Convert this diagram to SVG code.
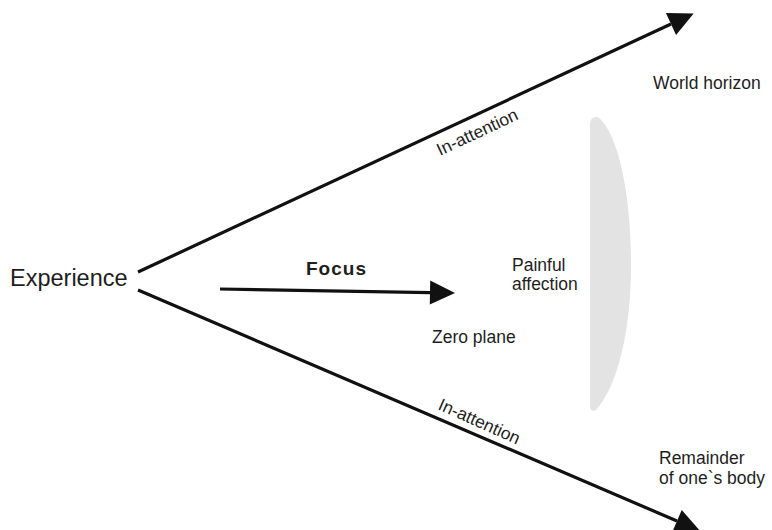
<svg xmlns="http://www.w3.org/2000/svg" width="772" height="530" viewBox="0 0 772 530">
  <style>
    .t { font-family: "Liberation Sans", Arial, sans-serif; fill: #1e1e1e; }
    .m { font-size: 17.5px; }
    .ia { font-size: 17.5px; }
    .line { stroke: #111; stroke-width: 3.2; fill: none; }
  </style>
  <defs>
    <marker id="ah" markerUnits="userSpaceOnUse" markerWidth="25" markerHeight="25" refX="0" refY="12" orient="auto" overflow="visible">
      <path d="M0,0 L25,12 L0,24 Z" fill="#111"/>
    </marker>
  </defs>
  <rect width="772" height="530" fill="#fff"/>

  <g id="painful-affection-plane">
    <path d="M590 123 Q591 116 598 117 C620 135 631 200 631 265 C631 330 618 385 596 410 Q590 413 590 405 Z" fill="#e3e3e3"/>
  </g>

  <g id="connectors">
    <line class="line" x1="138" y1="272" x2="671" y2="24" marker-end="url(#ah)"/>
    <line class="line" x1="138" y1="290" x2="677" y2="521" marker-end="url(#ah)"/>
    <line class="line" x1="220" y1="289" x2="430" y2="292.6" marker-end="url(#ah)"/>
    <text class="t ia" transform="translate(440 156) rotate(-25)">In-attention</text>
    <text class="t ia" transform="translate(437 409) rotate(24)">In-attention</text>
    <text class="t" x="306" y="275" style="font-weight:bold;font-size:19px;letter-spacing:1px">Focus</text>
  </g>

  <g id="experience">
    <text class="t" x="10" y="286" style="font-size:23.5px">Experience</text>
  </g>
  <g id="world-horizon">
    <text class="t m" x="653" y="89">World horizon</text>
  </g>
  <g id="painful-affection">
    <text class="t m" x="512" y="271">Painful</text>
    <text class="t m" x="512" y="290">affection</text>
  </g>
  <g id="zero-plane">
    <text class="t m" x="432" y="343">Zero plane</text>
  </g>
  <g id="remainder">
    <text class="t m" x="659" y="464">Remainder</text>
    <text class="t m" x="659" y="484">of one`s body</text>
  </g>
</svg>
